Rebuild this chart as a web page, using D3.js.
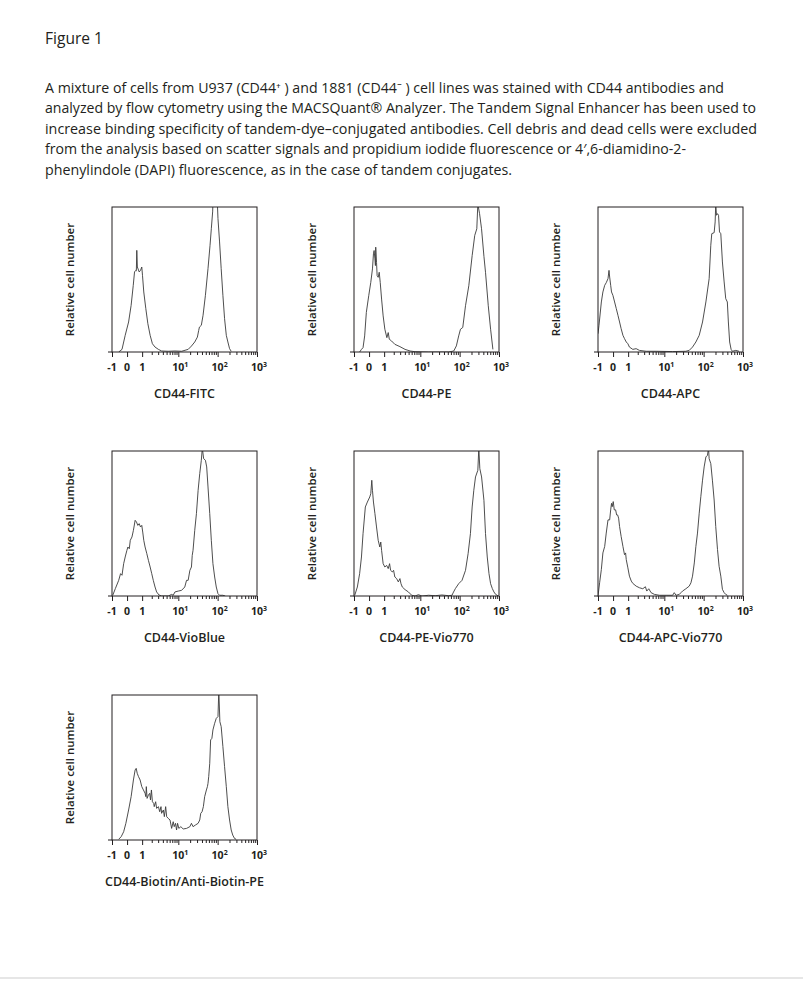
<!DOCTYPE html>
<html>
<head>
<meta charset="utf-8">
<title>Figure 1</title>
<script src="https://cdn.jsdelivr.net/npm/d3@7/dist/d3.min.js"></script>
<style>
  body { margin: 0; background: #fff; }
  svg text { font-family: "Open Sans", "Noto Sans", sans-serif; fill: #231f20; }
  .frame { fill: none; stroke: #231f20; stroke-width: 1; }
  .hist { fill: none; stroke: #3a3a3a; stroke-width: 0.9; stroke-linejoin: round; }
  .axis line { stroke: #231f20; stroke-width: 1; }
  .axis path { display: none; }
  .xlabel { font-size: 12.5px; font-weight: 600; }
  .ylabel { font-size: 11.5px; font-weight: 600; }
  .ticklabel { font-size: 10.5px; font-weight: 700; }
</style>
</head>
<body>
<svg id="figure" width="803" height="993"></svg>
<script>
// Histogram data: [fluorescence value, relative cell number in % of frame height]
var fitc = [[-0.51,0],[-0.30,1.8],[-0.11,11.5],[0.09,20.7],[0.24,32.2],[0.37,46],[0.45,55.2],[0.53,56.3],
  [0.57,56],[0.60,70.1],[0.64,58.6],[0.77,55.2],[0.87,56.3],[0.97,58.6],[1.03,52.9],[1.14,41.4],[1.33,29.9],
  [1.54,19.5],[1.80,11.5],[2.09,5.7],[2.47,3.4],[3.05,1.8],[3.70,0.7],[5.52,0.5],[8.20,0.7],[12.1,0.5],
  [17.8,1.8],[21.6,4.1],[26.2,6.9],[30.6,10.3],[33.0,14.9],[34.5,17.2],[38.5,18.4],[42.6,25.3],[48.9,39.1],
  [56.9,57.5],[64.1,73.6],[69.1,85],[74.6,96.6],[77.9,110],[96.2,110],[102,92],[112,75.9],[123,57.5],
  [136,39.1],[150,23],[166,11.5],[182,6.9],[201,2.3],[221,0.5]];

var pe = [[-0.58,0],[-0.46,1.8],[-0.36,3],[-0.26,11.1],[-0.16,27.3],[-0.02,38.8],[0.10,48],[0.20,57.3],
  [0.26,67.7],[0.30,70],[0.35,64.2],[0.38,59.6],[0.40,72.3],[0.45,61.9],[0.49,52.7],[0.56,51.5],[0.63,55],
  [0.70,48],[0.80,36.5],[0.92,24.9],[1.06,15.7],[1.24,9.9],[1.37,13.4],[1.48,8.8],[1.73,7.6],[2.15,5.3],
  [2.96,3.7],[4.04,1.8],[5.47,0.7],[7.33,0.2],[16.2,0],[52.7,0],[70.9,0.7],[82.6,4.2],[94.6,11.1],[105,15.7],
  [120,16.9],[141,31.9],[171,45.7],[208,66.5],[242,80.4],[273,85],[290,102],[321,95.4],[360,85],[414,66],
  [454,55],[534,31.9],[612,15.7],[700,1.8]];

var apc = [[-1,12.6],[-0.92,18.4],[-0.74,34.5],[-0.63,41.4],[-0.51,46],[-0.41,47.8],[-0.30,50.6],[-0.24,56.3],
  [-0.20,51.7],[-0.14,46],[-0.09,41.4],[-0.01,39.1],[0.09,34.5],[0.19,29.9],[0.29,25.3],[0.39,20.7],[0.49,16.1],
  [0.61,11.5],[0.72,9.2],[0.85,6.9],[0.98,5.7],[1.11,3.4],[1.43,1.8],[1.80,2.3],[2.23,1.1],[3.39,0.5],
  [6.13,0.5],[16.3,0.3],[35.4,0.5],[43.0,1.1],[52.2,3.4],[63.5,6.9],[77.2,11.5],[93.8,20.7],[114,34.5],
  [138,50.6],[152,73.6],[161,81.6],[185,82.3],[196,89.7],[203,102],[212,94.3],[225,95.4],[239,94.3],
  [253,82.8],[273,81.6],[300,62.1],[332,48.3],[364,36.8],[400,34.5],[425,20.7],[458,6.9],[499,1.8],
  [539,0.5],[655,1.1],[795,0.5]];

var vioBlue = [[-0.94,0.5],[-0.74,5.1],[-0.51,10.8],[-0.39,15.4],[-0.30,14.3],[-0.20,22.3],[-0.11,26.9],
  [-0.01,31.5],[0.05,33.8],[0.13,32.6],[0.19,38.4],[0.29,40.7],[0.38,45.3],[0.49,52.2],[0.58,51],[0.67,48.7],
  [0.77,49.9],[0.87,47.6],[0.97,48.7],[1.05,44.1],[1.14,38.4],[1.26,33.8],[1.43,29.2],[1.60,24.6],[1.80,20],
  [2.00,15.4],[2.21,10.8],[2.47,6.2],[2.73,2.8],[3.16,0.7],[3.70,0],[5.52,0],[6.74,1.1],[7.40,0.5],[8.20,2.8],
  [9.97,3.4],[12.1,3.9],[14.6,6.2],[16.2,10.8],[17.8,10.8],[19.7,17.7],[21.6,20],[22.6,28],[23.7,31.5],
  [26.2,45.3],[28.9,56.8],[31.9,72.9],[35.1,84.4],[38.5,93.6],[40.8,102],[44.1,94.7],[48.9,93.6],[52.7,89],
  [56.9,75.2],[63.0,56.8],[69.1,38.4],[75.9,22.3],[84.0,13.1],[92.3,6.2],[102,1.6],[112,0.5],[136,0.5],[156,0]];

var peVio770 = [[-0.94,0.5],[-0.74,6.2],[-0.58,15.4],[-0.46,26.9],[-0.36,43],[-0.22,61.4],[-0.10,64.8],
  [0.04,68.3],[0.10,70.6],[0.16,79.8],[0.20,72.9],[0.26,64.8],[0.35,56.8],[0.45,47.6],[0.56,38.4],[0.67,33.8],
  [0.74,37.2],[0.80,31.5],[0.92,22.3],[1.06,20],[1.22,21.1],[1.37,18.9],[1.51,22.3],[1.62,17.7],[1.82,16.6],
  [1.98,17.7],[2.15,13.1],[2.41,12],[2.68,9.7],[2.96,12],[3.16,8.5],[3.42,6.2],[4.04,4.4],[4.94,2.8],
  [6.02,0.5],[7.33,0],[8.93,0.9],[11.0,0],[16.2,0.5],[23.9,0.2],[35.4,0.7],[52.7,0.2],[64.1,0.5],[68.0,2.1],
  [77.9,5.1],[94.6,8.5],[115,10.8],[141,17.7],[164,29.2],[188,43],[208,61.4],[229,72.9],[253,82.1],[290,86.7],
  [307,102],[326,87.8],[361,82.1],[414,66],[454,43],[503,26.9],[557,15.4],[612,8.5],[677,5.1],[743,2.8],
  [823,1.1],[959,0]];

var apcVio770 = [[-1,0],[-0.87,9.1],[-0.74,18.3],[-0.63,29.7],[-0.51,34.2],[-0.41,43.4],[-0.30,52.5],
  [-0.20,52.5],[-0.14,59.4],[-0.09,63.9],[-0.05,61.6],[0.01,65.1],[0.07,59.4],[0.15,59.4],[0.21,55.9],
  [0.27,55.9],[0.33,53.7],[0.39,47.9],[0.49,41.1],[0.61,34.2],[0.72,28.5],[0.80,29.7],[0.85,25.1],[0.98,19.4],
  [1.11,13.7],[1.28,10.3],[1.43,8.7],[1.80,6.8],[2.23,5.7],[2.76,5],[3.24,6.4],[3.52,3.4],[3.97,5],[4.57,2.3],
  [5.58,1.1],[7.46,0.5],[11.1,0.5],[16.3,0.5],[17.9,2.3],[19.9,0.5],[24.1,1.1],[26.5,2.3],[29.1,3.4],
  [35.4,5],[43.0,6.8],[47.6,9.1],[52.2,13.7],[57.9,22.8],[63.5,34.2],[69.8,43.4],[77.2,57.1],[84.8,68.5],
  [93.8,79.9],[103,89],[114,95.9],[125,97],[133,102],[138,94.7],[152,91.3],[167,79.9],[185,66.2],[203,47.9],
  [225,32],[247,20.5],[273,13.7],[300,4.6],[332,2.3],[364,1.1],[400,0.5]];

var biotinPE = [[-0.51,0.5],[-0.35,2.3],[-0.20,5.7],[-0.07,11.5],[0.09,20.7],[0.24,29.9],[0.38,41.4],
  [0.49,48.3],[0.56,49.4],[0.63,46],[0.72,43.7],[0.84,41.4],[0.97,36.8],[1.11,34.5],[1.26,32.2],[1.33,29.9],
  [1.38,36.8],[1.46,28.7],[1.60,31],[1.75,32.2],[1.84,27.6],[1.96,34.5],[2.09,26.4],[2.27,25.3],[2.35,23],
  [2.57,26.4],[2.73,21.8],[3.05,23],[3.30,19.5],[3.57,23],[3.70,18.4],[4.12,20.7],[4.37,16.1],[4.73,23],
  [5.02,16.1],[5.52,14.9],[6.13,13.8],[6.74,8],[7.40,12.6],[7.86,9.2],[8.48,11.5],[9.01,6.9],[9.56,11.5],
  [10.3,8],[11.6,9.2],[13.3,7.6],[16.2,8],[19.7,9.2],[21.6,11.5],[23.7,9.2],[27.2,10.3],[31.9,11.5],
  [35.1,13.8],[37.2,18.4],[40.2,19.5],[43.4,23],[46.8,29.9],[51.8,34.5],[55.0,36.8],[56.9,39.1],[59.3,43.7],
  [63.0,52.9],[66.3,69],[71.5,70.1],[75.9,75.9],[84.0,80.5],[92.3,83.9],[102,85.1],[107,103],[114,81.6],
  [123,78.2],[136,64.4],[150,50.6],[166,36.8],[182,23],[201,13.8],[221,6.9],[242,3.4],[268,1.1],[295,0.5]];

var panelTitles = ["CD44-FITC", "CD44-PE", "CD44-APC", "CD44-VioBlue", "CD44-PE-Vio770",
  "CD44-APC-Vio770", "CD44-Biotin/Anti-Biotin-PE"];
var panelData = [fitc, pe, apc, vioBlue, peVio770, apcVio770, biotinPE];
var yTitle = "Relative cell number";

var tickValues = [-1, 0, 1, 10, 100, 1000];
var tickBase = ["-1", "0", "1", "10", "10", "10"];
var tickExp = ["", "", "", "1", "2", "3"];

var heading = "Figure 1";
var captionLines = [
  "A mixture of cells from U937 (CD44\u207a ) and 1881 (CD44\u207b ) cell lines was stained with CD44 antibodies and",
  "analyzed by flow cytometry using the MACSQuant\u00ae Analyzer. The Tandem Signal Enhancer has been used to",
  "increase binding specificity of tandem-dye\u2013conjugated antibodies. Cell debris and dead cells were excluded",
  "from the analysis based on scatter signals and propidium iodide fluorescence or 4\u2032,6-diamidino-2-",
  "phenylindole (DAPI) fluorescence, as in the case of tandem conjugates."
];
var captionWidths = [679, 711, 712, 641, 467];

var svg = d3.select("#figure");

// Heading and caption (each line squeezed to the reference width)
svg.append("text")
    .attr("x", 45).attr("y", 43.5)
    .attr("font-size", 16.5)
    .attr("textLength", 58).attr("lengthAdjust", "spacingAndGlyphs")
    .text(heading);

captionLines.forEach(function(line, i) {
    svg.append("text")
        .attr("x", 45).attr("y", 92.7 + i * 20.5)
        .attr("font-size", 15)
        .attr("textLength", captionWidths[i])
        .attr("lengthAdjust", "spacingAndGlyphs")
        .text(line);
});

// Panels
var size = 145;
var colLeft = [112, 354, 598];
var rowTop = [207, 451, 695];

// Biexponential-like display: asinh transform then linear
var x = d3.scaleLinear()
    .domain([Math.asinh(-1), Math.asinh(1000)])
    .range([0, size]);
var y = d3.scaleLinear().domain([0, 100]).range([size, 0]);

function xPos(v) { return x(Math.asinh(v)); }

var minorTicks = [];
[1, 10, 100].forEach(function(d) {
    d3.range(2, 10).forEach(function(k) { minorTicks.push(k * d); });
});

var histLine = d3.line()
    .x(function(d) { return xPos(d[0]); })
    .y(function(d) { return y(d[1]); });

svg.append("defs").append("clipPath")
    .attr("id", "plotclip")
    .append("rect")
    .attr("x", 0).attr("y", 0)
    .attr("width", size).attr("height", size);

panelData.forEach(function(data, i) {
    var g = svg.append("g")
        .attr("transform", "translate(" + colLeft[i % 3] + "," + rowTop[Math.floor(i / 3)] + ")");

    // Histogram
    g.append("path")
        .attr("class", "hist")
        .attr("clip-path", "url(#plotclip)")
        .attr("d", histLine(data));

    // Frame
    g.append("rect")
        .attr("class", "frame")
        .attr("width", size).attr("height", size);

    g.append("line")
        .attr("x1", -4).attr("x2", 0)
        .attr("y1", size).attr("y2", size)
        .style("stroke", "#231f20");

    // X axis ticks
    g.append("g")
        .attr("class", "axis")
        .attr("transform", "translate(0," + size + ")")
        .call(d3.axisBottom(x).tickValues(tickValues.map(Math.asinh)).tickSize(5).tickFormat(""));

    g.append("g")
        .attr("class", "axis")
        .attr("transform", "translate(0," + size + ")")
        .call(d3.axisBottom(x).tickValues(minorTicks.map(Math.asinh)).tickSize(3).tickFormat(""));

    // Tick labels with exponents
    tickValues.forEach(function(v, j) {
        var t = g.append("text")
            .attr("class", "ticklabel")
            .attr("x", xPos(v) + (tickExp[j] ? 2 : 0))
            .attr("y", size + 19)
            .attr("text-anchor", "middle")
            .text(tickBase[j]);
        if (tickExp[j]) {
            t.append("tspan")
                .attr("dy", -4.5)
                .attr("font-size", 7)
                .text(tickExp[j]);
        }
    });

    // Axis titles
    g.append("text")
        .attr("class", "xlabel")
        .attr("x", size / 2)
        .attr("y", size + 46)
        .attr("text-anchor", "middle")
        .text(panelTitles[i]);

    g.append("text")
        .attr("class", "ylabel")
        .attr("transform", "translate(-38," + (size / 2) + ") rotate(-90)")
        .attr("text-anchor", "middle")
        .text(yTitle);
});

// Page rule at the bottom
svg.append("line")
    .attr("x1", 0).attr("x2", 803)
    .attr("y1", 978).attr("y2", 978)
    .style("stroke", "#dedede")
    .style("stroke-width", 1.5);
</script>
</body>
</html>
